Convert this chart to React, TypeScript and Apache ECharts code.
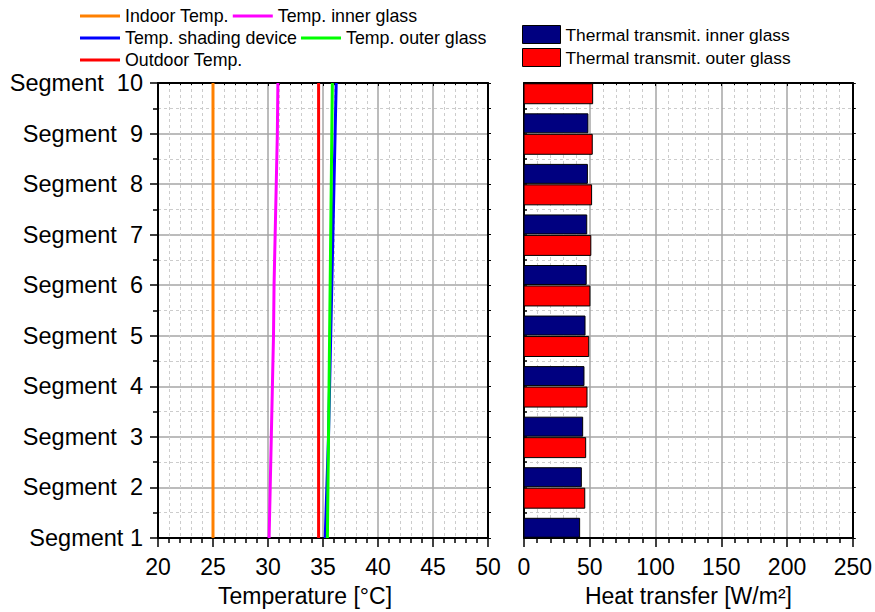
import React, { useEffect, useRef } from "react";
import * as echarts from "echarts";

const segments = [1, 2, 3, 4, 5, 6, 7, 8, 9, 10];
const segmentLabels = [
  "Segment 1",
  "Segment  2",
  "Segment  3",
  "Segment  4",
  "Segment  5",
  "Segment  6",
  "Segment  7",
  "Segment  8",
  "Segment  9",
  "Segment  10",
];

const indoorTemp = [25, 25, 25, 25, 25, 25, 25, 25, 25, 25];
const innerGlassTemp = [30.1, 30.2, 30.3, 30.4, 30.5, 30.55, 30.65, 30.75, 30.85, 30.9];
const shadingTemp = [35.2, 35.35, 35.5, 35.6, 35.7, 35.8, 35.9, 36.0, 36.1, 36.2];
const outerGlassTemp = [35.4, 35.45, 35.5, 35.55, 35.6, 35.65, 35.7, 35.75, 35.8, 35.85];
const outdoorTemp = [34.6, 34.6, 34.6, 34.6, 34.6, 34.6, 34.6, 34.6, 34.6, 34.6];

const innerGlassHeat = [42.3, 43.6, 44.6, 45.6, 46.4, 47.3, 47.7, 48.2, 48.6, 49.0];
const outerGlassHeat = [45.5, 46.2, 46.9, 47.9, 49.2, 50.1, 50.8, 51.4, 51.9, 52.2];

const tempTicks = [20, 25, 30, 35, 40, 45, 50];
const heatTicks = [0, 50, 100, 150, 200, 250];

const lineNames = [
  "Indoor Temp.",
  "Temp. inner glass",
  "Temp. shading device",
  "Temp. outer glass",
  "Outdoor Temp.",
];
const barNames = ["Thermal transmit. inner glass", "Thermal transmit. outer glass"];

const FONT = "Liberation Sans, Arial, sans-serif";
const MAJOR_GRID = "#a6a6a6";
const MINOR_GRID = "#cccccc";

function bottomAxis(gridIndex: number, ticks: number[], name: string, namePad: number[]) {
  return {
    type: "value",
    gridIndex,
    position: "bottom",
    min: ticks[0],
    max: ticks[ticks.length - 1],
    interval: ticks[1] - ticks[0],
    name,
    nameLocation: "middle",
    nameGap: 46,
    nameTextStyle: { fontSize: 23, color: "#000", fontFamily: FONT, padding: namePad },
    axisLine: { show: true, onZero: false, lineStyle: { color: "#000", width: 2 } },
    axisTick: { show: true, inside: false, length: 9, lineStyle: { color: "#000", width: 1.5 } },
    minorTick: { show: true, splitNumber: 5, length: 5, lineStyle: { color: "#000", width: 1.5 } },
    axisLabel: { show: true, fontSize: 23, color: "#000", fontFamily: FONT, margin: 17 },
    splitLine: { show: true, lineStyle: { color: MAJOR_GRID, width: 1.5 } },
    minorSplitLine: { show: true, lineStyle: { color: MINOR_GRID, width: 1, type: [3, 3] } },
  };
}

function topAxis(gridIndex: number, ticks: number[]) {
  return {
    type: "value",
    gridIndex,
    position: "top",
    min: ticks[0],
    max: ticks[ticks.length - 1],
    interval: ticks[1] - ticks[0],
    axisLine: { show: true, onZero: false, lineStyle: { color: "#000", width: 2 } },
    axisTick: { show: true, inside: true, length: 3, lineStyle: { color: "#000", width: 1 } },
    minorTick: { show: true, splitNumber: 5, length: 2, lineStyle: { color: "#000", width: 1 } },
    axisLabel: { show: false },
    splitLine: { show: false },
  };
}

function leftAxis(gridIndex: number, showLabels: boolean) {
  return {
    type: "value",
    gridIndex,
    position: "left",
    min: 1,
    max: 10,
    interval: 1,
    axisLine: { show: true, onZero: false, lineStyle: { color: "#000", width: 2 } },
    axisTick: {
      show: true,
      inside: !showLabels,
      length: showLabels ? 8 : 3,
      lineStyle: { color: "#000", width: 1.5 },
    },
    minorTick: { show: true, splitNumber: 2, length: showLabels ? 5 : 3, lineStyle: { color: "#000", width: 1.5 } },
    axisLabel: {
      show: showLabels,
      fontSize: 23.5,
      color: "#000",
      fontFamily: FONT,
      margin: 15,
      formatter: (v: number) => segmentLabels[Math.round(v) - 1] ?? "",
    },
    splitLine: { show: true, lineStyle: { color: MAJOR_GRID, width: 1.5 } },
    minorSplitLine: { show: true, lineStyle: { color: MINOR_GRID, width: 1, type: [3, 3] } },
  };
}

function rightAxis(gridIndex: number) {
  return {
    type: "value",
    gridIndex,
    position: "right",
    min: 1,
    max: 10,
    interval: 1,
    axisLine: { show: true, onZero: false, lineStyle: { color: "#000", width: 2 } },
    axisTick: { show: true, inside: false, length: 3, lineStyle: { color: "#000", width: 1 } },
    minorTick: { show: true, splitNumber: 2, length: 3, lineStyle: { color: "#000", width: 1 } },
    axisLabel: { show: false },
    splitLine: { show: false },
  };
}

function lineSeries(name: string, values: number[], color: string) {
  return {
    type: "line",
    name,
    xAxisIndex: 0,
    yAxisIndex: 0,
    data: segments.map((s, i) => [values[i], s]),
    showSymbol: false,
    symbol: "none",
    lineStyle: { color, width: 3 },
    itemStyle: { color },
    z: 5,
  };
}

function barSeries(name: string, values: number[], color: string, lo: number, hi: number) {
  return {
    type: "custom",
    name,
    xAxisIndex: 2,
    yAxisIndex: 2,
    data: segments.map((s, i) => [values[i], s]),
    encode: { x: 0, y: 1 },
    itemStyle: { color, borderColor: "#000", borderWidth: 1 },
    z: 5,
    renderItem: (params: any, api: any) => {
      const v = api.value(0);
      const s = api.value(1);
      const a = api.coord([0, s + hi]);
      const b = api.coord([v, s + lo]);
      const cs = params.coordSys;
      const shape = echarts.graphic.clipRectByRect(
        { x: a[0], y: a[1], width: b[0] - a[0], height: b[1] - a[1] },
        { x: cs.x, y: cs.y, width: cs.width, height: cs.height }
      );
      if (!shape) return null;
      return {
        type: "rect",
        shape,
        style: { fill: color, stroke: "#000", lineWidth: 1 },
      };
    },
  };
}

export default function App() {
  const ref = useRef<HTMLDivElement>(null);

  useEffect(() => {
    if (!ref.current) return;
    const chart = echarts.init(ref.current, undefined, { renderer: "svg" });
    const option: any = {
      animation: false,
      backgroundColor: "#ffffff",
      textStyle: { fontFamily: FONT },
      legend: [
        {
          left: 80,
          top: 7,
          width: 440,
          padding: 0,
          orient: "horizontal",
          icon: "rect",
          itemWidth: 40,
          itemHeight: 3,
          itemGap: 4,
          textStyle: { fontSize: 17.8, color: "#000", fontFamily: FONT, lineHeight: 18 },
          data: lineNames,
        },
        {
          left: 522,
          top: 25,
          padding: 0,
          orient: "vertical",
          itemWidth: 38,
          itemHeight: 18,
          itemGap: 4,
          textStyle: { fontSize: 17.4, color: "#000", fontFamily: FONT, lineHeight: 18 },
          data: [
            {
              name: barNames[0],
              icon: "rect",
              itemStyle: { color: "#000080", borderColor: "#000", borderWidth: 1 },
            },
            {
              name: barNames[1],
              icon: "rect",
              itemStyle: { color: "#ff0000", borderColor: "#000", borderWidth: 1 },
            },
          ],
        },
      ],
      grid: [
        { left: 158, top: 83, width: 330, height: 457, containLabel: false },
        { left: 524, top: 83, width: 330, height: 457, containLabel: false },
      ],
      xAxis: [
        bottomAxis(0, tempTicks, "Temperature [°C]", [0, 36, 0, 0]),
        topAxis(0, tempTicks),
        bottomAxis(1, heatTicks, "Heat transfer [W/m²]", [0, 0, 0, 0]),
        topAxis(1, heatTicks),
      ],
      yAxis: [leftAxis(0, true), rightAxis(0), leftAxis(1, false), rightAxis(1)],
      series: [
        lineSeries(lineNames[0], indoorTemp, "#ff8000"),
        lineSeries(lineNames[1], innerGlassTemp, "#ff00ff"),
        lineSeries(lineNames[2], shadingTemp, "#0000ff"),
        lineSeries(lineNames[3], outerGlassTemp, "#00ff00"),
        lineSeries(lineNames[4], outdoorTemp, "#ff0000"),
        barSeries(barNames[0], innerGlassHeat, "#000080", 0.015, 0.39),
        barSeries(barNames[1], outerGlassHeat, "#ff0000", -0.41, -0.015),
      ],
    };
    chart.setOption(option);
    return () => chart.dispose();
  }, []);

  return (
    <div
      ref={ref}
      style={{ position: "fixed", left: 0, top: 0, width: 875, height: 612, background: "#fff" }}
    />
  );
}
